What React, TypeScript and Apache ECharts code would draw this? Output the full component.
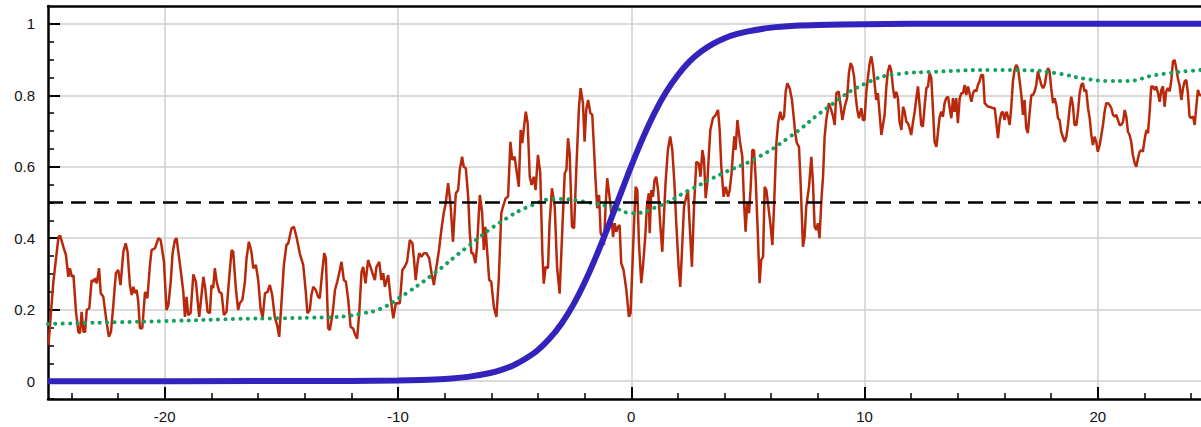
import React, { useEffect, useRef } from 'react';
import * as echarts from 'echarts';

// Smooth logistic curve (blue)
const sigmoidX = [-25, -15, -12, -10, -9, -8, -7, -6, -5.5, -5, -4.5, -4, -3.5, -3, -2.5, -2, -1.5, -1, -0.5, 0, 0.5, 1, 1.5, 2, 2.5, 3, 3.5, 4, 4.5, 5, 6, 7, 8, 10, 12, 15, 25];
const sigmoidY = [0, 0.0001, 0.0004, 0.0015, 0.003, 0.006, 0.012, 0.0235, 0.033, 0.046, 0.064, 0.087, 0.119, 0.16, 0.212, 0.276, 0.35, 0.431, 0.517, 0.602, 0.681, 0.751, 0.81, 0.857, 0.895, 0.923, 0.944, 0.96, 0.971, 0.979, 0.9895, 0.9947, 0.997, 0.999, 1, 1, 1];

// Smoothed estimate (green dotted)
const smoothX = [-25, -22, -20, -17, -15, -13, -12.2, -11.5, -10.8, -9.9, -8.6, -7.1, -5.6, -4.2, -3.2, -1.8, -0.7, 0.06, 1.07, 2.5, 3.93, 5.36, 6.78, 8.4, 10.0, 11.5, 13, 15.5, 17, 18.2, 19.5, 20.5, 21.2, 22.5, 24.4, 25];
const smoothY = [0.16, 0.165, 0.168, 0.174, 0.176, 0.179, 0.182, 0.19, 0.201, 0.235, 0.294, 0.372, 0.445, 0.494, 0.51, 0.5, 0.484, 0.47, 0.487, 0.535, 0.582, 0.624, 0.683, 0.765, 0.832, 0.86, 0.866, 0.871, 0.87, 0.862, 0.846, 0.84, 0.84, 0.857, 0.871, 0.873];

// Noisy observations (red)
const noisyPoints: [number, number][] = [
  [-24.98, 0.101], [-24.77, 0.278], [-24.55, 0.404], [-24.48, 0.407], [-24.34, 0.376], [-24.23, 0.353], [-24.13, 0.292], [-24.06, 0.316], [-23.98, 0.292], [-23.91, 0.297],
  [-23.8, 0.194], [-23.7, 0.138], [-23.63, 0.134], [-23.56, 0.194], [-23.48, 0.138], [-23.41, 0.138], [-23.34, 0.199], [-23.23, 0.204], [-23.13, 0.283], [-23.06, 0.278],
  [-22.98, 0.288], [-22.91, 0.274], [-22.81, 0.316], [-22.74, 0.246], [-22.63, 0.236], [-22.49, 0.166], [-22.39, 0.124], [-22.3, 0.138], [-22.2, 0.213], [-22.09, 0.302],
  [-21.99, 0.311], [-21.89, 0.269], [-21.77, 0.362], [-21.67, 0.386], [-21.59, 0.362], [-21.49, 0.269], [-21.41, 0.241], [-21.34, 0.264], [-21.27, 0.246], [-21.2, 0.255],
  [-21.13, 0.222], [-21.06, 0.148], [-20.96, 0.148], [-20.84, 0.25], [-20.74, 0.232], [-20.63, 0.325], [-20.56, 0.367], [-20.41, 0.372], [-20.27, 0.4], [-20.17, 0.395],
  [-20.03, 0.334], [-19.92, 0.199], [-19.84, 0.213], [-19.74, 0.278], [-19.66, 0.358], [-19.56, 0.395], [-19.49, 0.4], [-19.34, 0.325], [-19.2, 0.25], [-19.13, 0.18],
  [-19.06, 0.236], [-18.99, 0.185], [-18.89, 0.19], [-18.77, 0.299], [-18.66, 0.278], [-18.52, 0.18], [-18.42, 0.241], [-18.34, 0.292], [-18.26, 0.26], [-18.16, 0.194],
  [-18.06, 0.19], [-17.99, 0.269], [-17.92, 0.26], [-17.85, 0.316], [-17.77, 0.278], [-17.66, 0.25], [-17.56, 0.246], [-17.46, 0.185], [-17.35, 0.194], [-17.23, 0.292],
  [-17.13, 0.367], [-17.06, 0.362], [-16.95, 0.26], [-16.85, 0.199], [-16.78, 0.218], [-16.67, 0.227], [-16.56, 0.278], [-16.49, 0.344], [-16.39, 0.39], [-16.28, 0.362],
  [-16.2, 0.316], [-16.09, 0.325], [-15.99, 0.283], [-15.89, 0.204], [-15.8, 0.176], [-15.7, 0.246], [-15.59, 0.25], [-15.49, 0.269], [-15.39, 0.241], [-15.28, 0.18],
  [-15.18, 0.157], [-15.09, 0.124], [-14.99, 0.222], [-14.89, 0.325], [-14.78, 0.381], [-14.7, 0.386], [-14.56, 0.428], [-14.46, 0.432], [-14.35, 0.404], [-14.21, 0.358],
  [-14.06, 0.325], [-13.95, 0.25], [-13.88, 0.19], [-13.78, 0.199], [-13.71, 0.241], [-13.63, 0.264], [-13.52, 0.255], [-13.42, 0.236], [-13.35, 0.232], [-13.26, 0.297],
  [-13.16, 0.358], [-13.09, 0.344], [-12.99, 0.148], [-12.92, 0.143],
  [-12.8, 0.19], [-12.7, 0.255], [-12.6, 0.278], [-12.49, 0.311], [-12.42, 0.334], [-12.32, 0.283], [-12.23, 0.278], [-12.13, 0.227], [-12.03, 0.152], [-11.92, 0.147],
  [-11.85, 0.133], [-11.75, 0.119], [-11.66, 0.19], [-11.56, 0.306], [-11.49, 0.32], [-11.39, 0.274], [-11.28, 0.339], [-11.18, 0.32], [-11.09, 0.302], [-10.99, 0.283],
  [-10.92, 0.32], [-10.8, 0.334], [-10.71, 0.283], [-10.63, 0.302], [-10.56, 0.264], [-10.42, 0.297], [-10.32, 0.236], [-10.2, 0.176], [-10.09, 0.218], [-9.92, 0.218],
  [-9.81, 0.311], [-9.71, 0.32], [-9.61, 0.334], [-9.49, 0.395], [-9.38, 0.386], [-9.31, 0.339], [-9.24, 0.283], [-9.16, 0.33], [-9.09, 0.358], [-8.99, 0.348],
  [-8.89, 0.358], [-8.78, 0.358], [-8.66, 0.344], [-8.56, 0.302], [-8.46, 0.269], [-8.35, 0.32], [-8.24, 0.367], [-8.14, 0.423], [-8.04, 0.47], [-7.95, 0.498],
  [-7.85, 0.554], [-7.75, 0.498], [-7.64, 0.39], [-7.52, 0.526], [-7.42, 0.535], [-7.35, 0.591], [-7.25, 0.628], [-7.18, 0.6], [-7.09, 0.596], [-6.99, 0.516],
  [-6.92, 0.414], [-6.85, 0.358], [-6.78, 0.358], [-6.68, 0.33], [-6.61, 0.376], [-6.49, 0.521], [-6.39, 0.47], [-6.32, 0.367], [-6.25, 0.432], [-6.17, 0.358],
  [-6.09, 0.283], [-6.0, 0.278], [-5.89, 0.208], [-5.78, 0.18], [-5.68, 0.283], [-5.57, 0.47], [-5.5, 0.488], [-5.38, 0.512], [-5.28, 0.516], [-5.18, 0.67],
  [-5.1, 0.619], [-5.0, 0.628], [-4.92, 0.591], [-4.82, 0.544], [-4.74, 0.703], [-4.67, 0.666], [-4.61, 0.703], [-4.52, 0.754], [-4.44, 0.722], [-4.35, 0.572],
  [-4.27, 0.549], [-4.18, 0.572], [-4.1, 0.535], [-4.0, 0.633], [-3.9, 0.582], [-3.81, 0.358], [-3.75, 0.273], [-3.67, 0.32], [-3.57, 0.316], [-3.5, 0.442],
  [-3.4, 0.54], [-3.28, 0.488], [-3.18, 0.32], [-3.07, 0.245], [-2.95, 0.432], [-2.85, 0.582], [-2.78, 0.591], [-2.71, 0.68], [-2.64, 0.638], [-2.54, 0.432],
  [-2.45, 0.428], [-2.35, 0.6], [-2.24, 0.768], [-2.17, 0.82], [-2.07, 0.778], [-2.0, 0.67], [-1.93, 0.759], [-1.85, 0.787], [-1.75, 0.75], [-1.67, 0.745],
  [-1.6, 0.656], [-1.53, 0.563], [-1.46, 0.484], [-1.38, 0.521], [-1.31, 0.414], [-1.24, 0.404], [-1.17, 0.381],
  [-1.1, 0.488], [-1.03, 0.568], [-0.95, 0.526], [-0.88, 0.488], [-0.78, 0.404], [-0.71, 0.442], [-0.64, 0.418], [-0.57, 0.432], [-0.5, 0.437], [-0.43, 0.33],
  [-0.33, 0.311], [-0.21, 0.255], [-0.1, 0.18], [-0.03, 0.19], [0.05, 0.32], [0.12, 0.442], [0.19, 0.544], [0.26, 0.535], [0.33, 0.386], [0.43, 0.274],
  [0.5, 0.32], [0.6, 0.404], [0.67, 0.488], [0.75, 0.526], [0.79, 0.414], [0.86, 0.535], [0.93, 0.516], [1.0, 0.563], [1.07, 0.572], [1.15, 0.535],
  [1.25, 0.432], [1.33, 0.362], [1.4, 0.46], [1.47, 0.554], [1.57, 0.647], [1.67, 0.685], [1.76, 0.647], [1.85, 0.554], [1.93, 0.442], [2.03, 0.32],
  [2.1, 0.264], [2.17, 0.358], [2.26, 0.488], [2.36, 0.516], [2.43, 0.535], [2.5, 0.442], [2.6, 0.32], [2.69, 0.488], [2.79, 0.614], [2.89, 0.61],
  [2.97, 0.572], [3.05, 0.647], [3.12, 0.619], [3.19, 0.512], [3.26, 0.554], [3.33, 0.638], [3.39, 0.703], [3.5, 0.736], [3.62, 0.745], [3.72, 0.759],
  [3.79, 0.703], [3.86, 0.6], [3.96, 0.516], [4.05, 0.544], [4.15, 0.516], [4.22, 0.535], [4.3, 0.582], [4.36, 0.638], [4.42, 0.685], [4.47, 0.647],
  [4.55, 0.731], [4.65, 0.675], [4.76, 0.628], [4.83, 0.507], [4.9, 0.418], [4.97, 0.498], [5.05, 0.47], [5.12, 0.544], [5.19, 0.647], [5.26, 0.647],
  [5.33, 0.572], [5.43, 0.404], [5.5, 0.274], [5.57, 0.339], [5.65, 0.348], [5.72, 0.544], [5.79, 0.535], [5.86, 0.498], [5.96, 0.442], [6.05, 0.381],
  [6.12, 0.488], [6.22, 0.666], [6.3, 0.726], [6.39, 0.754], [6.47, 0.731], [6.55, 0.741], [6.62, 0.811], [6.69, 0.834], [6.79, 0.82], [6.89, 0.787],
  [6.96, 0.741], [7.03, 0.694], [7.1, 0.666], [7.19, 0.656], [7.26, 0.554], [7.36, 0.376], [7.43, 0.404], [7.5, 0.488], [7.62, 0.544], [7.72, 0.628],
  [7.79, 0.554], [7.86, 0.432], [7.93, 0.423], [8.0, 0.442], [8.07, 0.4], [8.15, 0.507], [8.22, 0.572], [8.29, 0.685], [8.36, 0.731], [8.47, 0.778],
  [8.57, 0.759], [8.65, 0.741], [8.72, 0.717], [8.79, 0.806], [8.89, 0.811], [8.96, 0.778], [9.05, 0.731], [9.15, 0.768], [9.25, 0.792], [9.33, 0.862],
  [9.4, 0.89], [9.47, 0.881], [9.55, 0.853], [9.62, 0.797], [9.69, 0.759], [9.76, 0.736], [9.86, 0.764], [9.93, 0.731], [10.0, 0.731], [10.07, 0.806],
  [10.15, 0.853], [10.22, 0.89], [10.29, 0.909], [10.36, 0.881], [10.43, 0.834], [10.5, 0.787], [10.57, 0.806], [10.65, 0.745],
  [10.72, 0.689], [10.79, 0.717], [10.86, 0.745], [10.93, 0.82], [11.0, 0.867], [11.08, 0.885], [11.15, 0.867], [11.22, 0.82], [11.29, 0.792], [11.36, 0.81],
  [11.43, 0.792], [11.5, 0.726], [11.58, 0.703], [11.65, 0.768], [11.72, 0.754], [11.79, 0.726], [11.86, 0.722], [11.93, 0.708], [12.0, 0.689], [12.08, 0.726],
  [12.15, 0.754], [12.22, 0.792], [12.29, 0.825], [12.36, 0.773], [12.43, 0.717], [12.5, 0.712], [12.58, 0.773], [12.65, 0.82], [12.72, 0.825], [12.79, 0.862],
  [12.86, 0.848], [12.93, 0.764], [13.0, 0.67], [13.08, 0.656], [13.15, 0.698], [13.22, 0.74], [13.29, 0.754], [13.36, 0.74], [13.43, 0.778], [13.5, 0.792],
  [13.58, 0.796], [13.65, 0.764], [13.72, 0.736], [13.79, 0.792], [13.86, 0.754], [13.93, 0.792], [14.0, 0.722], [14.08, 0.792], [14.15, 0.806], [14.22, 0.806],
  [14.29, 0.829], [14.36, 0.801], [14.43, 0.825], [14.5, 0.806], [14.58, 0.782], [14.65, 0.806], [14.72, 0.815], [14.79, 0.811], [14.86, 0.829], [14.93, 0.839],
  [15.0, 0.857], [15.08, 0.857], [15.15, 0.778], [15.22, 0.773], [15.29, 0.768], [15.36, 0.768], [15.5, 0.764], [15.58, 0.764], [15.65, 0.722], [15.72, 0.68],
  [15.79, 0.726], [15.86, 0.75], [15.93, 0.754], [16.0, 0.731], [16.08, 0.754], [16.15, 0.74], [16.22, 0.717], [16.29, 0.768], [16.36, 0.839], [16.43, 0.871],
  [16.5, 0.885], [16.58, 0.876], [16.65, 0.839], [16.72, 0.801], [16.79, 0.745], [16.86, 0.787], [16.93, 0.708], [17.0, 0.694], [17.08, 0.754], [17.15, 0.801],
  [17.22, 0.801], [17.29, 0.811], [17.36, 0.829], [17.43, 0.867], [17.5, 0.848], [17.58, 0.829], [17.65, 0.82], [17.72, 0.829], [17.79, 0.857], [17.86, 0.876],
  [17.93, 0.867], [18.0, 0.82], [18.08, 0.778], [18.15, 0.792], [18.22, 0.773], [18.29, 0.736], [18.36, 0.731], [18.43, 0.698], [18.5, 0.684], [18.58, 0.67],
  [18.65, 0.684], [18.72, 0.717], [18.79, 0.764], [18.86, 0.796], [18.93, 0.773], [19.0, 0.717], [19.08, 0.717], [19.15, 0.754], [19.22, 0.806], [19.29, 0.829],
  [19.36, 0.834], [19.43, 0.811], [19.5, 0.815], [19.58, 0.764], [19.65, 0.736], [19.72, 0.689], [19.79, 0.661], [19.86, 0.684], [19.93, 0.67], [20.0, 0.642],
  [20.08, 0.661], [20.15, 0.689], [20.22, 0.717], [20.29, 0.754], [20.36, 0.778], [20.43, 0.778], [20.5, 0.773], [20.58, 0.764], [20.65, 0.745], [20.72, 0.74],
  [20.79, 0.745], [20.86, 0.731], [20.93, 0.717], [21.0, 0.717], [21.08, 0.726], [21.15, 0.759], [21.22, 0.74], [21.29, 0.698], [21.36, 0.689], [21.43, 0.67],
  [21.5, 0.633], [21.58, 0.61], [21.65, 0.6], [21.72, 0.624], [21.79, 0.642], [21.86, 0.647], [21.93, 0.642], [22.0, 0.675], [22.08, 0.703], [22.15, 0.694],
  [22.22, 0.754], [22.29, 0.825], [22.36, 0.825], [22.43, 0.815], [22.5, 0.825], [22.58, 0.806], [22.65, 0.782], [22.72, 0.815], [22.79, 0.825], [22.86, 0.768],
  [22.93, 0.811], [23.0, 0.82], [23.08, 0.811], [23.15, 0.843], [23.22, 0.895], [23.29, 0.899], [23.36, 0.876], [23.43, 0.848], [23.5, 0.829], [23.58, 0.787],
  [23.65, 0.82], [23.72, 0.839], [23.79, 0.843], [23.86, 0.806], [23.93, 0.741], [24.0, 0.736], [24.08, 0.741], [24.15, 0.717], [24.22, 0.768], [24.29, 0.815],
  [24.36, 0.801], [24.45, 0.8]
];

const thresholdX = [-25, 25];
const thresholdY = [0.5, 0.5];

const xMajorTicks = [-20, -10, 0, 10, 20];
const xMinorTicks = [-24, -22, -18, -16, -14, -12, -8, -6, -4, -2, 2, 4, 6, 8, 12, 14, 16, 18, 22, 24];
const yMajorTicks = [0, 0.2, 0.4, 0.6, 0.8, 1];
const yMinorTicks = [-0.05, 0.05, 0.1, 0.15, 0.25, 0.3, 0.35, 0.45, 0.5, 0.55, 0.65, 0.7, 0.75, 0.85, 0.9, 0.95];

const FONT = '"Liberation Sans", Arial, Helvetica, sans-serif';

export default function App() {
  const ref = useRef<HTMLDivElement>(null);
  useEffect(() => {
    if (!ref.current) return;
    const chart = echarts.init(ref.current, null, { renderer: 'svg' });
    const zip = (xs: number[], ys: number[]) => xs.map((x, i) => [x, ys[i]]);
    const xBase = { type: 'value', min: -25, max: 25, gridIndex: 0 };
    const yBase = { type: 'value', min: -0.05, max: 1.05, gridIndex: 0 };
    chart.setOption({
      animation: false,
      backgroundColor: '#ffffff',
      grid: { left: 48, top: 6, right: -13.5, bottom: 28, containLabel: false, outerBoundsMode: 'none' },
      xAxis: [
        {
          ...xBase,
          position: 'bottom',
          axisLine: { show: true, onZero: false, lineStyle: { color: '#000', width: 2.5 } },
          axisTick: { show: true, inside: true, length: 12, customValues: xMajorTicks, lineStyle: { color: '#000', width: 2 } },
          axisLabel: { show: true, customValues: xMajorTicks, margin: 10, color: '#111', fontSize: 15, fontFamily: FONT },
          splitLine: { show: true, lineStyle: { color: '#cfcfcf', width: 1.5 } },
        },
        {
          ...xBase,
          position: 'bottom',
          axisLine: { show: false, onZero: false },
          axisTick: { show: true, inside: true, length: 6, customValues: xMinorTicks, lineStyle: { color: '#000', width: 1.5 } },
          axisLabel: { show: false },
          splitLine: { show: false },
        },
        {
          ...xBase,
          position: 'top',
          axisLine: { show: true, onZero: false, lineStyle: { color: '#000', width: 2.5 } },
          axisTick: { show: false },
          axisLabel: { show: false },
          splitLine: { show: false },
        },
      ],
      yAxis: [
        {
          ...yBase,
          position: 'left',
          axisLine: { show: true, onZero: false, lineStyle: { color: '#000', width: 2.5 } },
          axisTick: { show: true, inside: true, length: 12, customValues: yMajorTicks, lineStyle: { color: '#000', width: 2 } },
          axisLabel: { show: true, customValues: yMajorTicks, margin: 13, color: '#111', fontSize: 15, fontFamily: FONT },
          splitLine: { show: true, lineStyle: { color: '#cfcfcf', width: 1.5 } },
        },
        {
          ...yBase,
          position: 'left',
          axisLine: { show: false, onZero: false },
          axisTick: { show: true, inside: true, length: 6, customValues: yMinorTicks, lineStyle: { color: '#000', width: 1.5 } },
          axisLabel: { show: false },
          splitLine: { show: false },
        },
      ],
      series: [
        {
          type: 'line',
          name: 'noisy',
          data: noisyPoints,
          showSymbol: false,
          symbol: 'none',
          lineStyle: { color: '#b8290b', width: 2.5 },
          z: 2,
        },
        {
          type: 'line',
          name: 'smoothed',
          data: zip(smoothX, smoothY),
          showSymbol: false,
          symbol: 'none',
          smooth: 0.5,
          lineStyle: { color: '#14a060', width: 4, type: [0.1, 7.3], cap: 'round' },
          z: 3,
        },
        {
          type: 'line',
          name: 'logistic',
          data: zip(sigmoidX, sigmoidY),
          showSymbol: false,
          symbol: 'none',
          smooth: 0.3,
          lineStyle: { color: '#3322bb', width: 6 },
          z: 4,
        },
        {
          type: 'line',
          name: 'threshold',
          data: zip(thresholdX, thresholdY),
          showSymbol: false,
          symbol: 'none',
          lineStyle: { color: '#000', width: 2.5, type: [15, 8] },
          z: 5,
        },
      ],
    });
    return () => chart.dispose();
  }, []);
  return <div ref={ref} style={{ position: 'fixed', left: 0, top: 0, width: 1201, height: 427 }} />;
}
